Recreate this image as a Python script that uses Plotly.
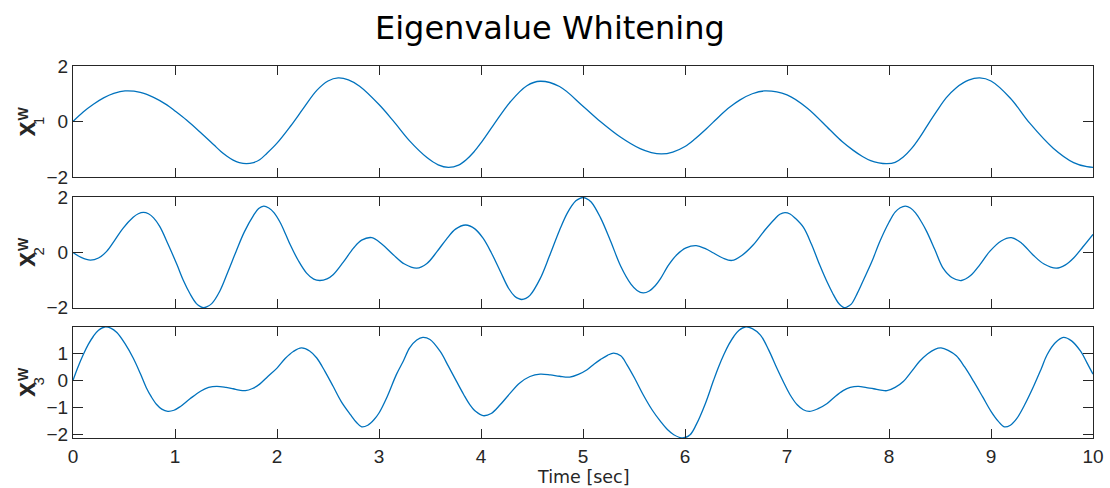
import plotly.graph_objects as go

# ---------------- data ----------------
t1 = [0, 0.1, 0.2, 0.3, 0.4, 0.51, 0.66, 0.79, 0.92, 1.0, 1.11, 1.245, 1.38, 1.45, 1.51, 1.57,
      1.63, 1.70, 1.77, 1.83, 1.90, 2.0, 2.13, 2.26, 2.39, 2.50, 2.60, 2.70, 2.81, 3.0, 3.14,
      3.30, 3.47, 3.58, 3.68, 3.78, 3.86, 3.93, 4.0, 4.12, 4.29, 4.45, 4.58, 4.77, 5.0, 5.17,
      5.37, 5.56, 5.67, 5.77, 5.88, 6.0, 6.10, 6.21, 6.34, 6.44, 6.54, 6.66, 6.78, 7.0, 7.20,
      7.42, 7.54, 7.65, 7.74, 7.82, 7.90, 7.98, 8.06, 8.14, 8.22, 8.30, 8.38, 8.47, 8.56, 8.66,
      8.78, 8.89, 9.0, 9.19, 9.38, 9.61, 9.81, 9.94, 10.0]
x1 = [0, 0.34, 0.62, 0.85, 1.01, 1.10, 1.05, 0.87, 0.60, 0.38, 0.06, -0.38, -0.84, -1.08, -1.25, -1.39,
      -1.48, -1.52, -1.48, -1.38, -1.15, -0.78, -0.18, 0.48, 1.12, 1.46, 1.57, 1.50, 1.27, 0.61, 0.02,
      -0.70, -1.30, -1.56, -1.65, -1.57, -1.36, -1.10, -0.77, -0.14, 0.72, 1.29, 1.45, 1.26, 0.55, 0.0,
      -0.57, -0.98, -1.12, -1.17, -1.10, -0.90, -0.62, -0.26, 0.20, 0.52, 0.78, 1.00, 1.10, 0.96, 0.48,
      -0.30, -0.72, -1.04, -1.26, -1.41, -1.49, -1.52, -1.47, -1.28, -0.98, -0.58, -0.12, 0.38, 0.85,
      1.22, 1.49, 1.57, 1.46, 0.84, -0.06, -0.96, -1.48, -1.63, -1.65]

t2 = [0, 0.08, 0.17, 0.25, 0.33, 0.41, 0.49, 0.59, 0.64, 0.69, 0.74, 0.79, 0.85, 0.93, 1.02, 1.08,
      1.15, 1.21, 1.25, 1.28, 1.31, 1.36, 1.44, 1.52, 1.60, 1.68, 1.77, 1.82, 1.87, 1.92, 1.97,
      2.03, 2.09, 2.13, 2.21, 2.29, 2.36, 2.42, 2.49, 2.55, 2.65, 2.75, 2.83, 2.93, 3.03, 3.14,
      3.25, 3.37, 3.47, 3.57, 3.66, 3.75, 3.85, 3.94, 4.02, 4.10, 4.19, 4.27, 4.33, 4.37, 4.40,
      4.44, 4.48, 4.58, 4.67, 4.77, 4.85, 4.93, 4.97, 5.0, 5.03, 5.08, 5.17, 5.27, 5.37, 5.47,
      5.53, 5.59, 5.65, 5.71, 5.76, 5.84, 5.92, 6.01, 6.11, 6.20, 6.28, 6.37, 6.46, 6.56, 6.67,
      6.78, 6.88, 6.93, 6.98, 7.03, 7.08, 7.16, 7.24, 7.32, 7.39, 7.45, 7.50, 7.53, 7.56, 7.59,
      7.63, 7.69, 7.75, 7.83, 7.91, 8.0, 8.06, 8.11, 8.16, 8.21, 8.26, 8.32, 8.37, 8.45, 8.53,
      8.62, 8.71, 8.80, 8.89, 8.99, 9.10, 9.20, 9.30, 9.41, 9.52, 9.64, 9.73, 9.81, 9.90, 10.0]
x2 = [0, -0.18, -0.28, -0.20, 0.04, 0.45, 0.88, 1.28, 1.41, 1.46, 1.41, 1.26, 0.95, 0.32, -0.45, -1.0,
      -1.52, -1.86, -1.97, -2.01, -1.98, -1.86, -1.40, -0.69, 0.05, 0.75, 1.35, 1.60, 1.69, 1.62, 1.45,
      1.10, 0.62, 0.28, -0.30, -0.75, -0.97, -1.02, -0.96, -0.81, -0.35, 0.16, 0.45, 0.54, 0.30, -0.08,
      -0.42, -0.57, -0.40, 0.04, 0.48, 0.85, 1.0, 0.86, 0.52, 0.0, -0.69, -1.30, -1.59, -1.68, -1.71,
      -1.67, -1.56, -0.95, -0.14, 0.81, 1.46, 1.88, 1.97, 2.0, 1.97, 1.84, 1.28, 0.42, -0.50, -1.15,
      -1.38, -1.47, -1.40, -1.20, -0.95, -0.45, -0.08, 0.17, 0.25, 0.14, -0.02, -0.20, -0.29, -0.10, 0.28,
      0.80, 1.22, 1.39, 1.45, 1.40, 1.25, 0.92, 0.30, -0.45, -1.05, -1.50, -1.82, -1.94, -2.01, -1.98,
      -1.88, -1.48, -1.0, -0.35, 0.40, 1.10, 1.47, 1.63, 1.69, 1.62, 1.44, 1.10, 0.76, 0.10, -0.57,
      -0.92, -1.02, -0.84, -0.45, 0.05, 0.42, 0.54, 0.34, -0.08, -0.42, -0.57, -0.45, -0.20, 0.20, 0.66]

t3 = [0, 0.05, 0.10, 0.15, 0.20, 0.25, 0.31, 0.37, 0.43, 0.51, 0.59, 0.66, 0.72, 0.77, 0.82, 0.87,
      0.93, 0.99, 1.05, 1.15, 1.25, 1.33, 1.41, 1.50, 1.57, 1.63, 1.69, 1.76, 1.83, 1.91, 2.0,
      2.08, 2.16, 2.24, 2.32, 2.39, 2.47, 2.55, 2.63, 2.72, 2.78, 2.83, 2.89, 2.95, 3.0, 3.08,
      3.17, 3.24, 3.30, 3.37, 3.43, 3.50, 3.60, 3.68, 3.76, 3.83, 3.89, 3.95, 4.02, 4.10, 4.19,
      4.28, 4.38, 4.48, 4.58, 4.68, 4.77, 4.87, 4.96, 5.04, 5.11, 5.17, 5.24, 5.30, 5.37, 5.43,
      5.51, 5.59, 5.68, 5.76, 5.83, 5.89, 5.98, 6.05, 6.11, 6.20, 6.28, 6.33, 6.38, 6.43, 6.48,
      6.53, 6.59, 6.66, 6.74, 6.82, 6.90, 6.97, 7.03, 7.10, 7.16, 7.22, 7.30, 7.39, 7.47, 7.55,
      7.62, 7.70, 7.78, 7.85, 7.92, 7.98, 8.06, 8.14, 8.22, 8.30, 8.38, 8.45, 8.51, 8.58, 8.66,
      8.74, 8.83, 8.92, 9.0, 9.07, 9.13, 9.19, 9.25, 9.33, 9.42, 9.49, 9.55, 9.63, 9.71, 9.79,
      9.88, 9.94, 10.0]
x3 = [0, 0.50, 0.94, 1.32, 1.62, 1.84, 1.96, 1.92, 1.76, 1.35, 0.82, 0.25, -0.28, -0.62, -0.89, -1.06,
      -1.14, -1.10, -0.97, -0.67, -0.40, -0.26, -0.22, -0.26, -0.31, -0.36, -0.38, -0.30, -0.14, 0.14, 0.45,
      0.80, 1.06, 1.19, 1.08, 0.82, 0.33, -0.22, -0.78, -1.26, -1.55, -1.71, -1.65, -1.45, -1.20, -0.60,
      0.21, 0.72, 1.19, 1.48, 1.58, 1.50, 1.06, 0.52, -0.04, -0.52, -0.89, -1.15, -1.30, -1.22, -0.89,
      -0.50, -0.10, 0.14, 0.23, 0.20, 0.15, 0.12, 0.23, 0.39, 0.60, 0.76, 0.92, 1.0, 0.90, 0.58,
      0.05, -0.53, -1.10, -1.51, -1.82, -2.0, -2.12, -2.0, -1.63, -0.85, 0.0, 0.50, 0.94, 1.32, 1.62,
      1.84, 1.96, 1.90, 1.66, 1.12, 0.45, -0.10, -0.53, -0.90, -1.08, -1.14, -1.05, -0.86, -0.60, -0.38,
      -0.26, -0.22, -0.27, -0.31, -0.36, -0.38, -0.26, -0.04, 0.32, 0.70, 0.98, 1.14, 1.19, 1.10, 0.90,
      0.50, -0.04, -0.62, -1.14, -1.50, -1.71, -1.65, -1.42, -0.90, -0.20, 0.40, 0.94, 1.38, 1.58, 1.45,
      1.06, 0.65, 0.23]

x_ticks = [0, 1, 2, 3, 4, 5, 6, 7, 8, 9, 10]
y1_ticks = [-2, 0, 2]
y2_ticks = [-2, 0, 2]
y3_ticks = [-2, -1, 0, 1]
sub_labels = ["1", "2", "3"]
title_text = "Eigenvalue Whitening"
xlabel_text = "Time [sec]"

# ---------------- figure ----------------
W, H = 1110, 488
L, R, T, B = 73, 17, 66, 50
plot_w = W - L - R
plot_h = H - T - B

def py_to_paper(py):
    return (H - B - py) / plot_h

def px_to_paper(px):
    return (px - L) / plot_w

FONT = "Liberation Sans, Arial, sans-serif"
TFONT = "DejaVu Sans, sans-serif"
DARK = "#262626"
LINE = "#0072BD"

fig = go.Figure()
for i, (tt, vv) in enumerate([(t1, x1), (t2, x2), (t3, x3)], start=1):
    fig.add_trace(go.Scatter(
        x=tt, y=vv, mode="lines",
        line=dict(color=LINE, width=1.3, shape="spline", smoothing=1.0),
        xaxis="x" if i == 1 else f"x{i}", yaxis="y" if i == 1 else f"y{i}",
        showlegend=False, hoverinfo="skip"))

domains = [
    (py_to_paper(177), 1.0),
    (py_to_paper(308), py_to_paper(197)),
    (0.0, py_to_paper(327)),
]
yranges = [[-2, 2], [-2.02, 2.02], [-2.12, 1.96]]
yticks = [y1_ticks, y2_ticks, y3_ticks]

common = dict(showline=True, linecolor=DARK, linewidth=1.3, mirror="ticks",
              ticks="inside", tickwidth=1.3, tickcolor=DARK, showgrid=False,
              zeroline=False, automargin=False,
              tickfont=dict(family=FONT, size=19, color=DARK))

layout = dict(width=W, height=H, margin=dict(l=L, r=R, t=T, b=B, autoexpand=False),
              plot_bgcolor="white", paper_bgcolor="white", showlegend=False)

for i in range(3):
    xn = "xaxis" if i == 0 else f"xaxis{i+1}"
    yn = "yaxis" if i == 0 else f"yaxis{i+1}"
    ya = "y" if i == 0 else f"y{i+1}"
    xa = "x" if i == 0 else f"x{i+1}"
    layout[xn] = dict(common, domain=[0, 1], range=[0, 10], tickvals=x_ticks,
                      ticklen=9, anchor=ya, showticklabels=(i == 2),
                      ticklabelstandoff=1)
    layout[yn] = dict(common, domain=list(domains[i]), range=yranges[i],
                      tickvals=yticks[i], ticklen=10, anchor=xa)

fig.update_layout(**layout)

annotations = []
# title
annotations.append(dict(text=title_text, xref="paper", yref="paper",
                        x=px_to_paper(550), y=py_to_paper(28), xanchor="center", yanchor="middle",
                        showarrow=False, font=dict(family=TFONT, size=32, color="black")))
# x label
annotations.append(dict(text=xlabel_text, xref="paper", yref="paper",
                        x=px_to_paper(583), y=py_to_paper(476.5), xanchor="center", yanchor="middle",
                        showarrow=False, borderpad=0,
                        font=dict(family=TFONT, size=17.5, color=DARK)))
# y labels (x with stacked superscript W and subscript index)
centers = [129, 259.5, 389.5]
for i, cy in enumerate(centers):
    annotations.append(dict(text="<b>x</b>", xref="paper", yref="paper",
                            x=px_to_paper(25.5), y=py_to_paper(cy), xanchor="center", yanchor="middle",
                            textangle=-90, showarrow=False,
                            font=dict(family=FONT, size=27, color=DARK)))
    annotations.append(dict(text="<b>W</b>", xref="paper", yref="paper",
                            x=px_to_paper(22.5), y=py_to_paper(cy - 15), xanchor="center", yanchor="middle",
                            textangle=-90, showarrow=False,
                            font=dict(family=FONT, size=14, color=DARK)))
    annotations.append(dict(text=sub_labels[i], xref="paper", yref="paper",
                            x=px_to_paper(38), y=py_to_paper(cy - 8), xanchor="center", yanchor="middle",
                            textangle=-90, showarrow=False,
                            font=dict(family=FONT, size=15, color=DARK)))
fig.update_layout(annotations=annotations)

fig.write_html("out.html")
